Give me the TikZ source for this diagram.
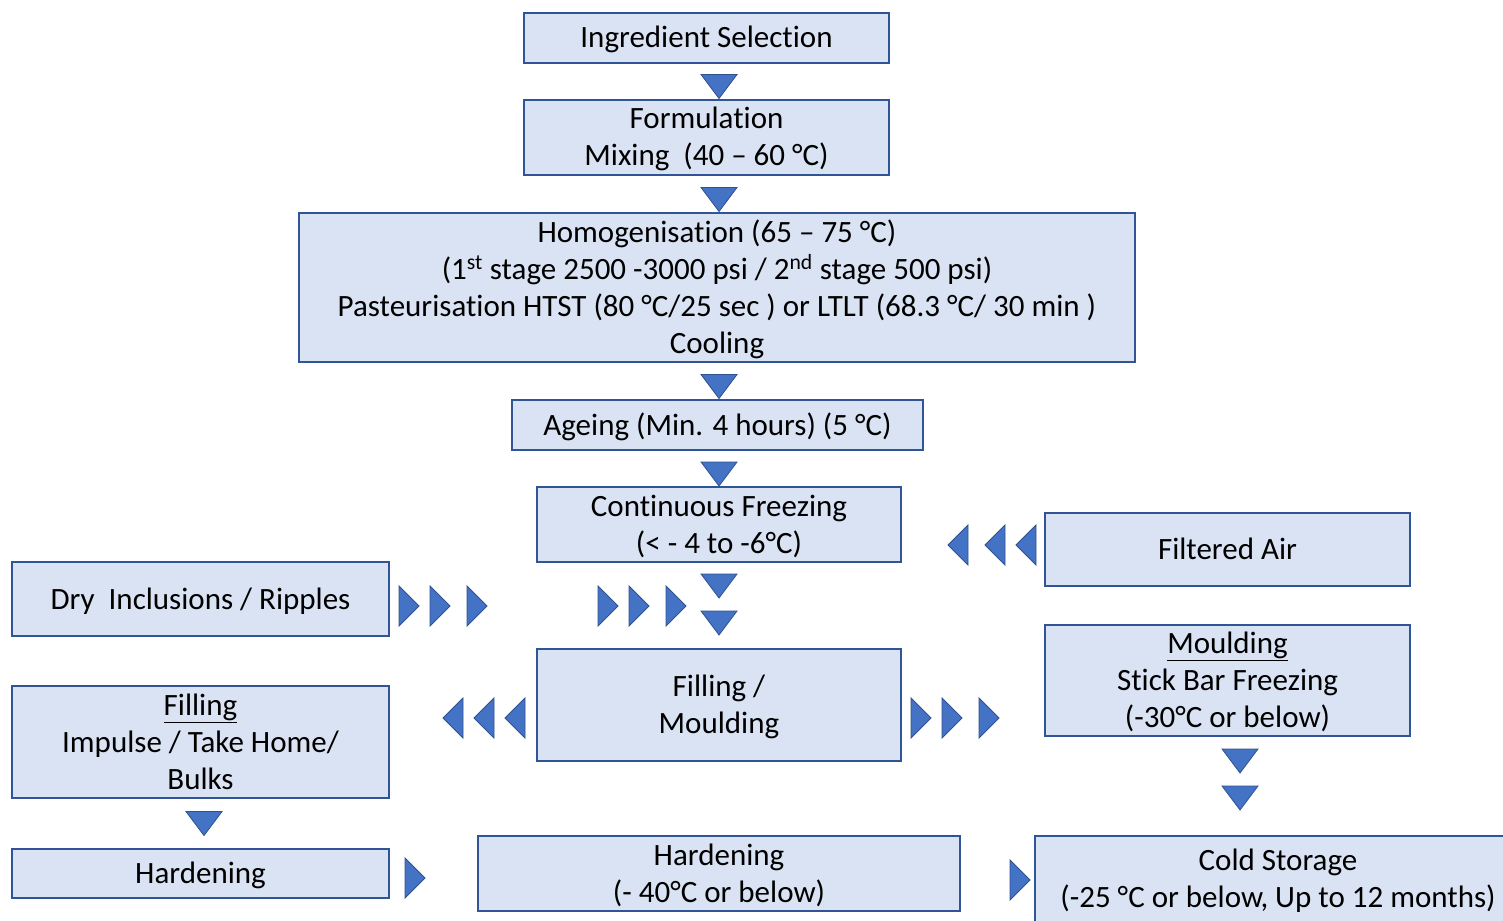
\documentclass[tikz,border=0pt]{standalone}
\usepackage{fontspec}
\setmainfont{Carlito}[Ligatures=NoCommon]
\usepackage{tikz}
\definecolor{boxfill}{HTML}{DAE3F3}
\definecolor{boxline}{HTML}{2F5597}
\definecolor{trifill}{HTML}{4472C4}
\definecolor{triline}{HTML}{2F528F}
\tikzset{
  px/.style={x=1pt, y=-1pt},
  stage/.style={draw=boxline, fill=boxfill, line width=1.6pt, rectangle, inner sep=0pt,
                align=center, font=\fontsize{31}{37}\selectfont, nlines=1},
  % fixed text box (28pt + 37pt per extra line above the last baseline, 8pt below),
  % so that capitals sit in the middle of a box
  nlines/.style={text height={#1*37pt-9pt}, text depth=8pt},
  tri/.style={fill=trifill, draw=triline, line width=0.8pt, line join=miter},
  % step markers: down, right and left pointing
  tdown/.pic={\filldraw[tri] (-18,-12) -- (18,-12) -- (0,12) -- cycle;},
  tright/.pic={\filldraw[tri] (-10,-20) -- (10,0) -- (-10,20) -- cycle;},
  tleft/.pic={\filldraw[tri] (10,-20) -- (-10,0) -- (10,20) -- cycle;},
}
\begin{document}
\begin{tikzpicture}[px]
  \useasboundingbox (0,0) rectangle (1503,920);
  \clip (0,0) rectangle (1503,920);

  % --- main line (centre column) ---
  \node[stage, minimum width=365, minimum height=50] (ingr) at (706.5,38) {Ingredient Selection};
  \node[stage, nlines=2, minimum width=365, minimum height=75] (form) at (706.5,137.5)
       {Formulation\\Mixing\ \ (40 – 60 °C)};
  \node[stage, nlines=4, minimum width=836, minimum height=149] (homog) at (717,287.5)
       {Homogenisation (65 – 75 °C)\\
        (1\textsuperscript{st} stage 2500 -3000 psi / 2\textsuperscript{nd} stage 500 psi)\\
        Pasteurisation HTST (80 °C/25 sec ) or LTLT (68.3 °C/ 30 min )\\
        Cooling};
  \node[stage, minimum width=411, minimum height=50] (ageing) at (717.5,425)
       {Ageing (Min. 4 hours) (5 °C)};
  \node[stage, nlines=2, minimum width=364, minimum height=75] (cfreeze) at (719,524.5)
       {Continuous Freezing\\(< - 4 to -6°C)};
  \node[stage, nlines=2, minimum width=364, minimum height=112] (fillmould) at (719,705)
       {Filling /\\Moulding};
  \node[stage, nlines=2, minimum width=482, minimum height=75] (hardB) at (719,873.5)
       {Hardening\\(- 40°C or below)};

  % --- side inputs ---
  \node[stage, minimum width=365, minimum height=73] (air) at (1227.5,549.5) {Filtered Air};
  \node[stage, minimum width=377, minimum height=74] (dry) at (200.5,599)
       {Dry\ \ Inclusions / Ripples};

  % --- branches ---
  \node[stage, nlines=3, minimum width=377, minimum height=112] (fill) at (200.5,742)
       {\underline{Filling}\\Impulse / Take Home/\\Bulks};
  \node[stage, minimum width=377, minimum height=49] (hardA) at (200.5,873.5) {Hardening};
  \node[stage, nlines=3, minimum width=365, minimum height=111] (mould) at (1227.5,680.5)
       {\underline{Moulding}\\Stick Bar Freezing\\(-30°C or below)};
  \node[stage, nlines=2, minimum width=486, minimum height=86] (cold) at (1278,879)
       {Cold Storage\\(-25 °C or below, Up to 12 months)};

  % --- down markers ---
  \foreach \y in {86.5,199.5,386.5,474,586,623}
    \pic at (719,\y) {tdown};
  \foreach \y in {761,798}
    \pic at (1240,\y) {tdown};
  \pic at (204,823.5) {tdown};

  % --- side markers ---
  \foreach \x in {958,995,1026}
    \pic at (\x,545) {tleft};
  \foreach \x in {409,440,477,608,639,676}
    \pic at (\x,606) {tright};
  \foreach \x in {453,484,515}
    \pic at (\x,718) {tleft};
  \foreach \x in {921,952,989}
    \pic at (\x,718) {tright};
  \pic at (415,878) {tright};
  \pic at (1020,880) {tright};
\end{tikzpicture}
\end{document}
